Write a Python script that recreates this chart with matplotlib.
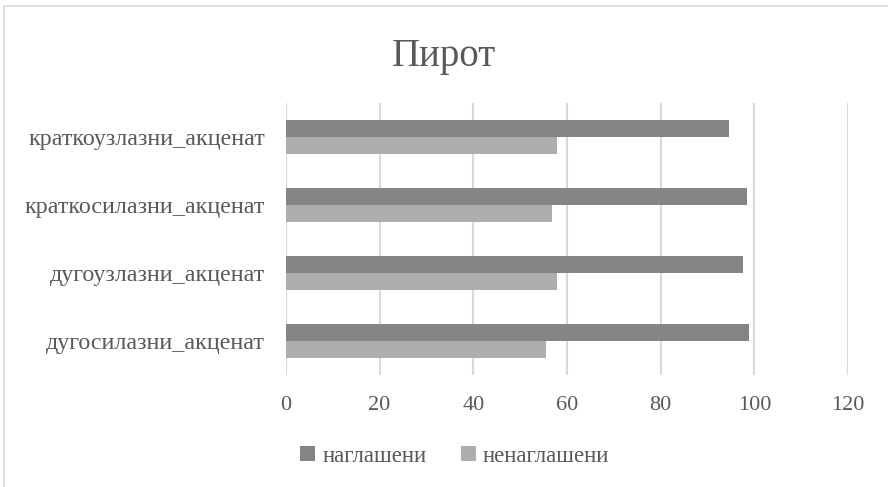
import matplotlib.pyplot as plt
import numpy as np
from matplotlib.patches import Rectangle

plt.rcParams['font.family'] = ['Liberation Serif', 'DejaVu Serif']

categories = ["дугосилазни_акценат", "дугоузлазни_акценат",
              "краткосилазни_акценат", "краткоузлазни_акценат"]
naglaseni = [98.8, 97.6, 98.5, 94.6]
nenaglaseni = [55.6, 57.9, 56.7, 57.9]
series_names = ["наглашени", "ненаглашени"]
xticks = [0, 20, 40, 60, 80, 100, 120]

dark = "#848484"
light = "#adafaf"
txt = "#595959"

fig = plt.figure(figsize=(8.88, 4.87), dpi=100)
ax = fig.add_axes([0.322, 0.23, 0.633, 0.5585])

y = np.arange(len(categories))
h = 0.25
ax.barh(y + h / 2, naglaseni, height=h, color=dark, label=series_names[0], zorder=3)
ax.barh(y - h / 2, nenaglaseni, height=h, color=light, label=series_names[1], zorder=3)

ax.set_xlim(0, 120)
ax.set_ylim(-0.5, 3.5)
ax.set_xticks(xticks)
ax.set_yticks(y)
ax.set_yticklabels(categories, fontsize=17.3)
ax.tick_params(axis='both', length=0, colors=txt)
ax.tick_params(axis='x', pad=15, labelsize=16)
ax.tick_params(axis='y', pad=15)
ax.grid(axis='x', color="#d9d9d9", linewidth=1.5, zorder=0)
for s in ax.spines.values():
    s.set_visible(False)

fig.text(0.5, 0.885, "Пирот", ha='center', va='center', fontsize=28, color=txt)

leg = fig.legend(loc='center', bbox_to_anchor=(0.512, 0.063), ncol=2, frameon=False,
                 fontsize=16.5, handlelength=0.65, handleheight=0.65, handletextpad=0.3,
                 columnspacing=1.5)
for t in leg.get_texts():
    t.set_color(txt)

fig.patches.append(Rectangle((4 / 888, -0.1), 1.2, 1 - 6 / 487 + 0.1,
                             transform=fig.transFigure, fill=False,
                             edgecolor="#d9d9d9", linewidth=1.2))

fig.savefig("out.png", dpi=100)
